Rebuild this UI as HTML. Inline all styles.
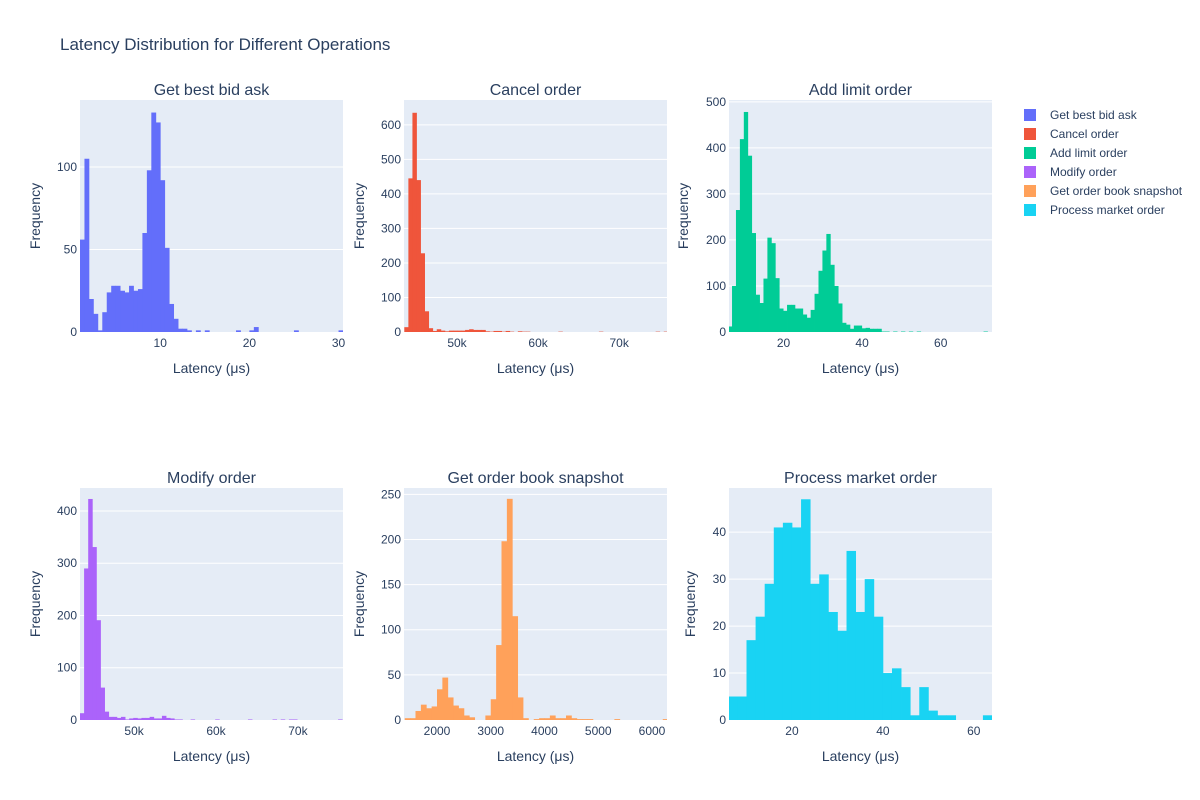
<!DOCTYPE html>
<html><head><meta charset="utf-8">
<style>
body{margin:0;background:#fff;}
svg{display:block;font-family:"Liberation Sans",Arial,sans-serif;}
</style></head>
<body>
<svg id="chart" width="1200" height="800" viewBox="0 0 1200 800" xmlns="http://www.w3.org/2000/svg">
<rect width="1200" height="800" fill="#fff"/>
<text x="60" y="50" font-size="17" fill="#2a3f5f">Latency Distribution for Different Operations</text>
<g id="panels"></g>
<g id="legend"></g>
</svg>
<script>
// ---- data ----
const seriesNames = ["Get best bid ask","Cancel order","Add limit order","Modify order","Get order book snapshot","Process market order"];
const seriesColors = ["#636efa","#EF553B","#00cc96","#ab63fa","#FFA15A","#19d3f3"];

// bin starts and widths (in axis units)
const binStart = [1.0, 43.5, 5.9, 43.4, 1400, 6];
const binWidth = [0.5, 0.5, 1, 0.5, 100, 2];

const countsBidAsk = [56,105,20,11,1,12,24,28,28,25,24,28,25,26,60,98,133,127,92,51,17,8,2,2,1,0,1,0,1,0,0,0,0,0,0,1,0,0,1,3,0,0,0,0,0,0,0,0,1,0,0,0,0,0,0,0,0,0,1];
const countsCancel = [14,445,635,440,228,60,11,3,8,4,2,4,4,4,4,6,8,6,6,6,2,1,3,3,1,3,1,0,2,1,1,0,0,0,0,0,0,0,1,0,0,0,0,0,0,0,0,0,1,0,0,0,0,0,0,0,0,0,0,0,0,0,1,0,1];
const countsAddLimit = [12,100,265,419,478,383,215,81,63,116,205,193,117,51,46,59,59,51,51,38,31,48,83,133,177,213,146,100,62,20,16,7,14,14,8,9,7,7,7,1,1,0,1,0,1,0,1,0,1,0,0,0,0,0,0,0,0,0,0,0,0,0,0,0,0,1,0,0];
const countsModify = [13,290,423,331,191,62,16,6,6,4,6,1,3,4,3,4,4,6,3,3,8,4,3,1,1,0,0,1,0,0,0,0,0,1,0,0,0,0,0,0,0,1,0,0,0,0,0,1,0,1,0,1,1,0,0,0,0,0,0,0,0,0,0,1];
const countsSnapshot = [2,2,10,17,13,15,34,47,25,16,13,5,3,0,0,5,23,83,198,245,115,25,2,0,1,2,2,5,2,2,5,2,1,1,1,0,0,0,0,1,0,0,0,0,0,0,0,0,1];
const countsMarket = [5,5,17,22,29,41,42,41,47,29,31,23,19,36,23,30,22,10,11,7,1,7,2,1,1,0,0,0,1];

// axis ranges
const xRanges = [[1.0,30.5],[43.46,75.9],[6.13,73.05],[43.4,75.5],[1386,6279],[6.15,64.0]];
const yMax = [140.6, 672, 504, 444, 257, 49.4];

// ticks
const xTicks = [[10,20,30],[50,60,70],[20,40,60],[50,60,70],[2000,3000,4000,5000,6000],[20,40,60]];
const xTickLabels = [["10","20","30"],["50k","60k","70k"],["20","40","60"],["50k","60k","70k"],["2000","3000","4000","5000","6000"],["20","40","60"]];
const yTicks = [[0,50,100],[0,100,200,300,400,500,600],[0,100,200,300,400,500],[0,100,200,300,400],[0,50,100,150,200,250],[0,10,20,30,40]];

const allCounts = [countsBidAsk,countsCancel,countsAddLimit,countsModify,countsSnapshot,countsMarket];

// ---- layout ----
const NS = "http://www.w3.org/2000/svg";
const panelX = [80,404,729];
const panelY = [100,488];
const PW = 263, PH = 232;
const yTitleOffset = [40,40,41,40,40,34];
const gPanels = document.getElementById("panels");
function mk(tag, attrs, parent){
  const e = document.createElementNS(NS, tag);
  for (const k in attrs) e.setAttribute(k, attrs[k]);
  parent.appendChild(e);
  return e;
}
function slug(s){return s.toLowerCase().replace(/[^a-z0-9]+/g,'-');}

for (let p = 0; p < 6; p++) {
  const px = panelX[p%3], py = panelY[Math.floor(p/3)];
  const [x0,x1] = xRanges[p];
  const xs = v => px + (v - x0) / (x1 - x0) * PW;
  const ys = v => py + PH - v / yMax[p] * PH;
  const g = mk("g", {}, gPanels);
  
  
  const clipId = "clip" + p;
  const cp = mk("clipPath", {id: clipId}, g);
  mk("rect", {x:px, y:py, width:PW, height:PH}, cp);
  const bg = mk("rect", {x:px, y:py, width:PW, height:PH, fill:"#E5ECF6"}, g);
  
  
  yTicks[p].forEach(t => {
    const y = ys(t);
    if (t > 0) {
      const gl = mk("line", {x1:px, x2:px+PW, y1:y, y2:y, stroke:"#fff", "stroke-width":1}, g);
      
      
    }
    const tl = mk("text", {x:px-3, y:y+4, "font-size":12, fill:"#2a3f5f", "text-anchor":"end"}, g);
    
    
    tl.textContent = String(t);
  });
  // bars
  const bars = mk("g", {"clip-path":"url(#"+clipId+")"}, g);
  const counts = allCounts[p];
  counts.forEach((c,i) => {
    if (c <= 0) return;
    const a = binStart[p] + i*binWidth[p], b = a + binWidth[p];
    const xa = xs(a), xb = xs(b);
    const r = mk("rect", {x:xa, y:ys(c), width:xb-xa+0.4, height:ys(0)-ys(c), fill:seriesColors[p]}, bars);
    
    
  });
  xTicks[p].forEach((t,i) => {
    const tl = mk("text", {x:xs(t), y:py+PH+15, "font-size":12, fill:"#2a3f5f", "text-anchor":"middle"}, g);
    
    
    tl.textContent = xTickLabels[p][i];
  });
  const st = mk("text", {x:px+PW/2, y:py-5, "font-size":16, fill:"#2a3f5f", "text-anchor":"middle"}, g);
  
  
  st.textContent = seriesNames[p];
  const xt = mk("text", {x:px+PW/2, y:py+PH+41, "font-size":14, fill:"#2a3f5f", "text-anchor":"middle"}, g);
  
  
  xt.textContent = "Latency (μs)";
  const yx = px - yTitleOffset[p];
  const yt = mk("text", {x:yx, y:py+PH/2, "font-size":14, fill:"#2a3f5f", "text-anchor":"middle", transform:"rotate(-90 "+yx+" "+(py+PH/2)+")"}, g);
  
  
  yt.textContent = "Frequency";
}
// legend
const gl = document.getElementById("legend");
seriesNames.forEach((n,i) => {
  const y = 115 + i*19;
  const item = mk("g", {}, gl);
  
  
  mk("rect", {x:1024, y:y-6, width:12, height:12, fill:seriesColors[i]}, item);
  const t = mk("text", {x:1050, y:y+4, "font-size":12, fill:"#2a3f5f"}, item);
  t.textContent = n;
});
</script>
</body></html>
